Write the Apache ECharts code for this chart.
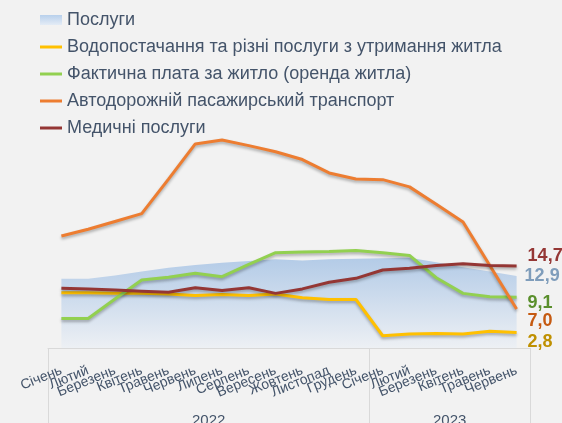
<!DOCTYPE html>
<html>
<head>
<meta charset="utf-8">
<script src="https://cdn.jsdelivr.net/npm/echarts@6/dist/echarts.min.js"></script>
<style>
  html, body { margin: 0; padding: 0; background: #f2f2f2; }
  #chart { width: 562px; height: 423px; }
</style>
</head>
<body>
<div id="chart"></div>
<script>
// місяці по роках
const months2022 = ['Січень', 'Лютий', 'Березень', 'Квітень', 'Травень', 'Червень', 'Липень', 'Серпень', 'Вересень', 'Жовтень', 'Листопад', 'Грудень'];
const months2023 = ['Січень', 'Лютий', 'Березень', 'Квітень', 'Травень', 'Червень'];
const years = ['2022', '2023'];

// ряди, %
const services = [12.4, 12.4, 13.0, 13.7, 14.4, 14.9, 15.3, 15.6, 15.9, 15.7, 15.9, 16.0, 16.1, 16.2, 15.4, 14.5, 13.7, 12.9];
const water = [9.9, 9.9, 9.8, 9.8, 9.7, 9.4, 9.6, 9.4, 9.7, 9.0, 8.7, 8.7, 2.2, 2.5, 2.6, 2.5, 3.0, 2.8];
const rent = [5.3, 5.3, 8.8, 12.2, 12.7, 13.4, 12.8, 15.0, 17.1, 17.2, 17.3, 17.5, 17.1, 16.6, 12.6, 9.8, 9.2, 9.1];
const transport = [20.1, 21.3, 22.7, 24.1, 30.3, 36.6, 37.3, 36.3, 35.2, 33.8, 31.4, 30.3, 30.2, 28.9, 25.8, 22.6, 14.8, 7.0];
const medical = [10.7, 10.6, 10.4, 10.2, 10.0, 10.8, 10.3, 10.8, 9.8, 10.6, 11.8, 12.5, 14.0, 14.3, 14.8, 15.1, 14.8, 14.7];

const categories = months2022.concat(months2023);
const yearBounds = [0, months2022.length, categories.length];
const yearCenters = [months2022.length / 2, months2022.length + months2023.length / 2];

const textColor = '#44546a';
const boxColor = '#d9d9d9';
const lineIcon = 'path://M0,0 H22 V3 H0 Z';
const fmt = (v) => v.toFixed(1).replace('.', ',');

function lineSeries(name, data, color, labelColor, dy) {
  return {
    name: name,
    type: 'line',
    data: data,
    symbol: 'none',
    itemStyle: { color: color },
    lineStyle: {
      width: 3,
      color: color,
      shadowColor: 'rgba(0,0,0,0.3)',
      shadowBlur: 3,
      shadowOffsetY: 2
    },
    endLabel: {
      show: true,
      formatter: (p) => fmt(p.value),
      color: labelColor,
      fontSize: 18,
      fontWeight: 'bold',
      distance: 11,
      offset: [0, dy]
    }
  };
}

const chart = echarts.init(document.getElementById('chart'));

const areaGradient = new echarts.graphic.LinearGradient(0, 0, 0, 1, [
  { offset: 0, color: '#b3cbe7' },
  { offset: 1, color: '#edf0f4' }
]);

const option = {
  backgroundColor: '#f2f2f2',
  textStyle: { fontFamily: 'Liberation Sans, Arial, sans-serif' },
  animation: false,
  legend: {
    orient: 'vertical',
    left: 40,
    top: 11,
    padding: 0,
    itemWidth: 22,
    itemHeight: 10,
    itemGap: 9,
    symbolKeepAspect: true,
    textStyle: { fontSize: 18, color: textColor, lineHeight: 18 },
    data: [
      {
        name: 'Послуги',
        icon: 'rect',
        itemStyle: {
          color: new echarts.graphic.LinearGradient(0, 0, 0, 1, [
            { offset: 0, color: '#b8d0ec' },
            { offset: 1, color: '#e4ecf6' }
          ])
        }
      },
      { name: 'Водопостачання та різні послуги з утримання житла', icon: lineIcon },
      { name: 'Фактична плата за житло (оренда житла)', icon: lineIcon },
      { name: 'Автодорожній пасажирський транспорт', icon: lineIcon },
      { name: 'Медичні послуги', icon: lineIcon }
    ]
  },
  grid: { left: 48, right: 32, top: 125, bottom: 75, containLabel: false, outerBoundsMode: 'none' },
  xAxis: [
    {
      type: 'category',
      data: categories,
      boundaryGap: true,
      axisLine: { show: true, lineStyle: { color: boxColor, width: 1 } },
      axisTick: { show: false },
      axisLabel: {
        interval: 0,
        rotate: 22,
        margin: 22,
        fontSize: 14,
        color: textColor
      }
    },
    {
      type: 'value',
      min: 0,
      max: categories.length,
      position: 'bottom',
      offset: 0,
      axisLine: { show: false },
      splitLine: { show: false },
      axisTick: {
        show: true,
        customValues: yearBounds,
        length: 75,
        lineStyle: { color: boxColor, width: 1 }
      },
      axisLabel: {
        customValues: yearCenters,
        formatter: (v) => years[yearCenters.indexOf(v)],
        margin: 65,
        fontSize: 15,
        color: textColor
      }
    }
  ],
  yAxis: {
    type: 'value',
    min: 0,
    max: 40,
    show: false,
    splitLine: { show: false }
  },
  series: [
    {
      name: 'Послуги',
      type: 'line',
      data: services,
      symbol: 'none',
      itemStyle: { color: '#b3cbe7' },
      lineStyle: { width: 0 },
      areaStyle: { color: areaGradient, opacity: 1 },
      endLabel: {
        show: true,
        formatter: (p) => fmt(p.value),
        color: '#7f9dbb',
        fontSize: 18,
        fontWeight: 'bold',
        distance: 8,
        offset: [0, 0]
      }
    },
    lineSeries('Водопостачання та різні послуги з утримання житла', water, '#ffc000', '#bf9000', 10),
    lineSeries('Фактична плата за житло (оренда житла)', rent, '#92d050', '#5a8f2c', 6),
    lineSeries('Автодорожній пасажирський транспорт', transport, '#ed7d31', '#c55a11', 12),
    lineSeries('Медичні послуги', medical, '#943634', '#953735', -10)
  ]
};

chart.setOption(option);
</script>
</body>
</html>
